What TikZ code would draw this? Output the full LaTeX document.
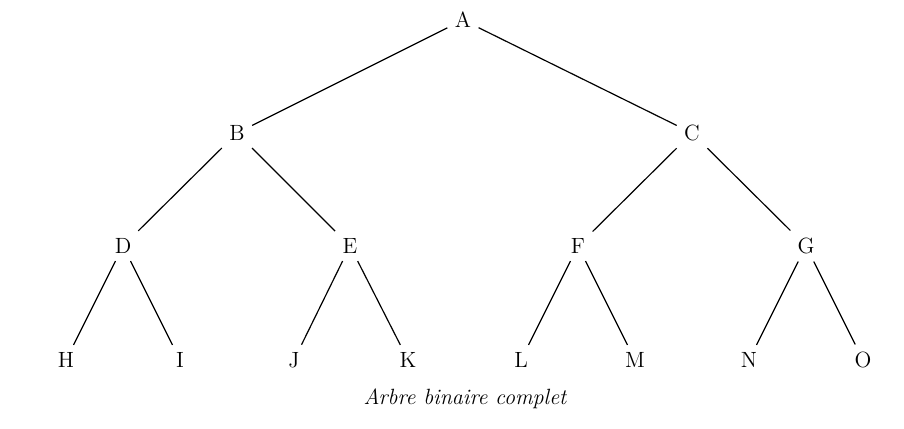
\documentclass[tikz,border=0pt]{standalone}
\begin{document}
\begin{tikzpicture}[x=0.5035pt,y=-0.5035pt,
  every node/.style={font=\fontsize{11.1}{13}\selectfont},
  tnode/.style={inner sep=3.6pt},
  edge/.style={draw,line width=0.6pt}]
\useasboundingbox (0,0) rectangle (904,429);
\node[tnode] (A) at (463,20) {A};
\node[tnode] (B) at (237,133) {B};
\node[tnode] (C) at (692,133) {C};
\node[tnode] (D) at (123,246) {D};
\node[tnode] (E) at (350,246) {E};
\node[tnode] (F) at (578,246) {F};
\node[tnode] (G) at (806,246) {G};
\node[tnode] (H) at (66,360) {H};
\node[tnode] (I) at (180,360) {I};
\node[tnode] (J) at (294,360) {J};
\node[tnode] (K) at (408,360) {K};
\node[tnode] (L) at (521,360) {L};
\node[tnode] (M) at (635,360) {M};
\node[tnode] (N) at (749,360) {N};
\node[tnode] (O) at (863,360) {O};
\node (cap) at (465,399) {\itshape Arbre binaire complet};
\foreach \p/\c in {A/B,A/C,B/D,B/E,C/F,C/G,D/H,D/I,E/J,E/K,F/L,F/M,G/N,G/O}
  \path[edge] (\p) -- (\c);
\end{tikzpicture}
\end{document}
